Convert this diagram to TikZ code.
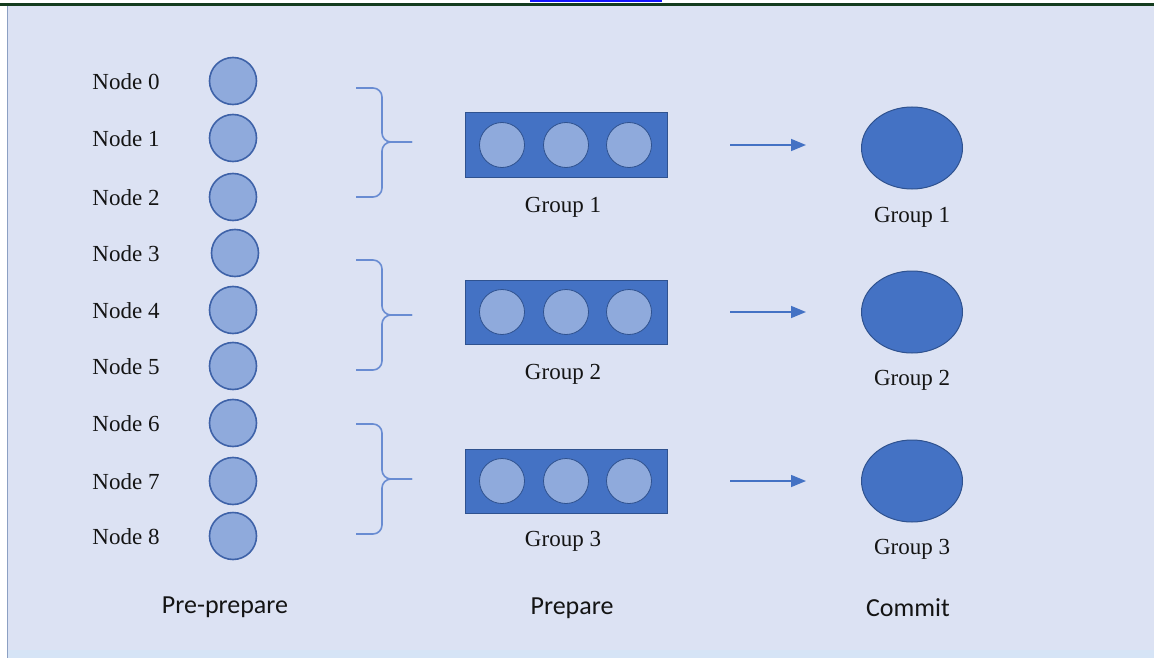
\documentclass[tikz,border=0pt]{standalone}
\usepackage{fontspec}
\setmainfont{Liberation Serif}
\newfontfamily\labelsans{Carlito}
\usetikzlibrary{arrows.meta,shapes.geometric}

\definecolor{pagebg}{RGB}{220,226,243}
\definecolor{rimgreen}{RGB}{20,60,30}
\definecolor{bandbg}{RGB}{214,228,246}
\definecolor{linkblue}{RGB}{20,20,250}
\definecolor{leftrule}{RGB}{140,160,195}
\definecolor{peerfill}{RGB}{143,170,220}
\definecolor{peerline}{RGB}{62,98,168}
\definecolor{groupfill}{RGB}{68,114,196}
\definecolor{groupline}{RGB}{47,82,143}
\definecolor{bracecol}{RGB}{105,140,210}
\definecolor{inkcol}{RGB}{20,20,20}

\tikzset{
  x=1pt, y=-1pt,
  peer/.style={circle, draw=peerline, line width=1.6pt, fill=peerfill,
               minimum size=47pt, inner sep=0pt},
  member/.style={circle, draw=groupline, line width=0.8pt, fill=peerfill,
                 minimum size=45pt, inner sep=0pt},
  groupbox/.style={draw=groupline, line width=1pt, fill=groupfill,
                   minimum width=202pt, minimum height=64pt, inner sep=0pt},
  commitnode/.style={ellipse, draw=groupline, line width=1pt, fill=groupfill,
                     minimum width=101pt, minimum height=82pt, inner sep=0pt},
  serif/.style={text=inkcol, font=\fontsize{23}{27}\selectfont, inner sep=0pt},
  phase/.style={text=inkcol, font=\labelsans\fontsize{26}{31}\selectfont, inner sep=0pt},
  bracket/.style={draw=bracecol, line width=1.6pt, rounded corners=9pt},
  flow/.style={draw=groupfill, line width=1.5pt,
               -{Triangle[length=15pt,width=12pt]}},
}

\begin{document}
\begin{tikzpicture}
  % canvas and its frame lines
  \useasboundingbox (0,0) rectangle (1154,658);
  \fill[white] (0,0) rectangle (1154,658);
  \fill[pagebg] (8,6) rectangle (1154,650);
  \fill[bandbg] (8,650) rectangle (1154,658);
  \fill[rimgreen] (0,3) rectangle (1154,6);
  \fill[linkblue] (530,0) rectangle (662,2);
  \draw[leftrule, line width=1.2pt] (7.5,6) -- (7.5,658);

  % pre-prepare column: nine peers
  \foreach \i/\y/\cx in {0/81/233,1/138/233,2/197/233,3/253/235,4/310/233,
                         5/366/233,6/423/233,7/481/233,8/536/233} {
    \node[peer] (p\i) at (\cx,\y) {};
    \node[serif] (l\i) at (126,\y+1) {Node \i};
  }

  % braces gathering three peers each
  \foreach \g/\t/\m/\b in {1/88/142/197, 2/260/315/370, 3/424/479/534} {
    \draw[bracket] (356,\t) -- (382,\t) -- (382,\m) -- (412,\m);
    \draw[bracket] (356,\b) -- (382,\b) -- (382,\m) -- (412,\m);
  }

  % prepare column: grouped peers
  \foreach \g/\y in {1/145, 2/312, 3/481} {
    \node[groupbox] (box\g) at (566,\y) {};
    \node[member] (m\g a) at (502,\y) {};
    \node[member] (m\g b) at (566,\y) {};
    \node[member] (m\g c) at (629,\y) {};
  }
  \node[serif] (gl1) at (563,207) {Group 1};
  \node[serif] (gl2) at (563,374) {Group 2};
  \node[serif] (gl3) at (563,541) {Group 3};

  % commit column
  \node[commitnode] (c1) at (912,148) {};
  \node[commitnode] (c2) at (912,312) {};
  \node[commitnode] (c3) at (912,481) {};
  \node[serif] (cl1) at (912,217) {Group 1};
  \node[serif] (cl2) at (912,380) {Group 2};
  \node[serif] (cl3) at (912,549) {Group 3};

  % arrows from prepare to commit
  \foreach \g/\y in {1/145, 2/312, 3/481} {
    \coordinate (a\g) at (730,\y);
    \coordinate (b\g) at (806,\y);
    \draw[flow] (a\g) -- (b\g);
  }

  % phase captions
  \node[phase] (ph1) at (225,607) {Pre-prepare};
  \node[phase] (ph2) at (572,608) {Prepare};
  \node[phase] (ph3) at (908,608) {Commit};
\end{tikzpicture}
\end{document}
